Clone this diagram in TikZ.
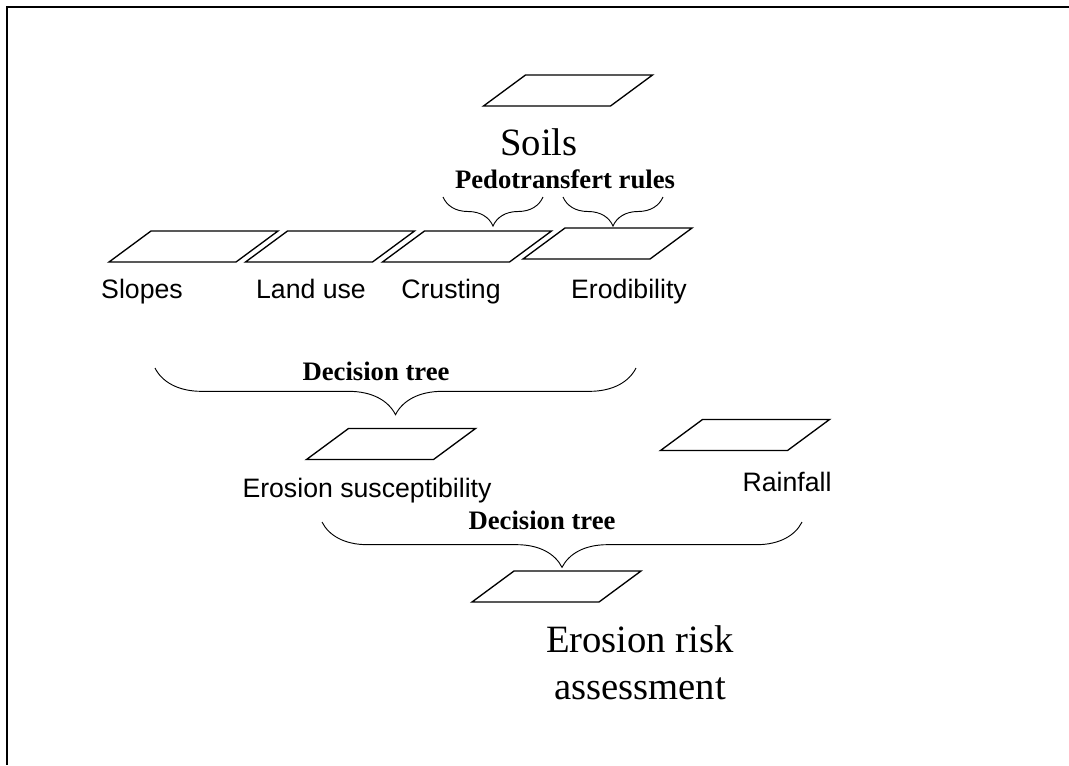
\documentclass[tikz,border=0pt]{standalone}
\usepackage{fontspec}
\setmainfont{Liberation Serif}
\setsansfont{Liberation Sans}
\usetikzlibrary{decorations.pathreplacing}
\tikzset{para/.pic={
  \draw [line width=1pt] (-84.5,15.5) coordinate (-sw) -- (42.5,15.5) -- (84.5,-15.5) -- (-42.5,-15.5) -- cycle;
  \coordinate (-top) at (21,-15.5);}}
\tikzset{layer/.style={font=\sffamily\fontsize{20}{24}\selectfont, anchor=base, inner sep=0pt}}
\tikzset{big/.style={font=\fontsize{29}{35}\selectfont, anchor=base, inner sep=0pt, align=center}}
\tikzset{rule/.style={font=\bfseries\fontsize{20}{24}\selectfont, anchor=base, inner sep=0pt}}
\tikzset{brc/.style={draw, line width=0.7pt, decorate, decoration={brace, mirror, amplitude=#1}}}

\begin{document}
\begin{tikzpicture}[x=0.75pt, y=-0.75pt]
\useasboundingbox (0,0) rectangle (1069,765);
\draw [line width=1.5pt] (1069,7) -- (7,7) -- (7,765);

%SOILS
\pic (soils) at (568,90.5) {para};
\node [big] (soilslbl) at (539,155) {Soils};
\node [rule] (pedo) at (565,188) {Pedotransfert rules};

%FIRST LAYERS
\pic (slopes) at (193.5,246.5) {para};
\pic (landuse) at (330,246.5) {para};
\pic (crusting) at (467,246.5) {para};
\pic (erod) at (607.5,243.5) {para};
\node [layer] (slopeslbl) at (142,298) {Slopes};
\node [layer] (landuselbl) at (311,298) {Land use};
\node [layer] (crustinglbl) at (451,298) {Crusting};
\node [layer] (erodlbl) at (629,298) {Erodibility};

%PEDOTRANSFERT BRACES
\coordinate (p1a) at (443,197);
\coordinate (p1b) at (543,197);
\coordinate (p2a) at (563,197);
\coordinate (p2b) at (663,197);
\path [brc=21.75pt] (p1a) -- (p1b);
\path [brc=21.75pt] (p2a) -- (p2b);

%SUSCEPTIBILITY
\coordinate (d1a) at (155,368);
\coordinate (d1b) at (636,368);
\path [brc=35pt] (d1a) -- (d1b);
\node [rule] (tree1) at (376,380) {Decision tree};
\pic (suscept) at (391,444) {para};
\node [layer] (susceptlbl) at (367,497) {Erosion susceptibility};
\pic (rain) at (745,435) {para};
\node [layer] (rainlbl) at (787,491) {Rainfall};

%RISK
\coordinate (d2a) at (322,522);
\coordinate (d2b) at (802,522);
\path [brc=34pt] (d2a) -- (d2b);
\node [rule] (tree2) at (542,529) {Decision tree};
\pic (risk) at (556.5,586.5) {para};
\node [big] (risklbl) at (640,699) {Erosion risk\\assessment};

\end{tikzpicture}
\end{document}
